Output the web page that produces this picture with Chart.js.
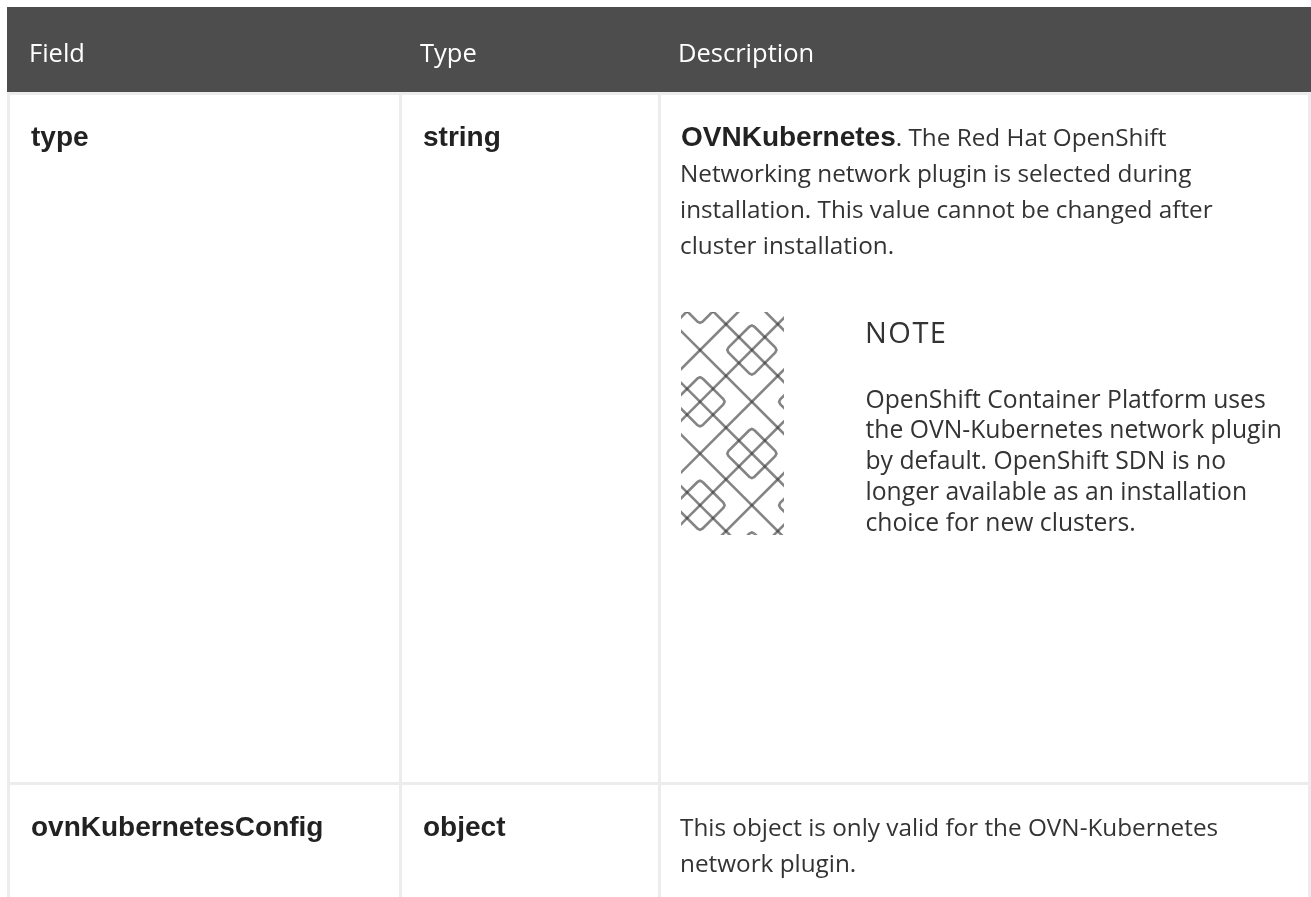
<!DOCTYPE html>
<html>
<head>
<meta charset="utf-8">
<title>Field table</title>
<script src="https://cdn.jsdelivr.net/npm/chart.js@4"></script>
<style>
  html, body { margin: 0; padding: 0; background: #fff; overflow: hidden; }
  #tableChart { position: absolute; left: 0; top: 0; }
  #noteChart { position: absolute; left: 681px; top: 312px; filter: blur(0.7px); }
</style>
</head>
<body>
<canvas id="tableChart" width="1311" height="897"></canvas>
<canvas id="noteChart" width="103" height="223"></canvas>
<script>
// table content
const columnHeaders = ['Field', 'Type', 'Description'];
const fieldNames = ['type', 'ovnKubernetesConfig'];
const fieldTypes = ['string', 'object'];
const typeLead = 'OVNKubernetes';
const typeLines = ['. The Red Hat OpenShift', 'Networking network plugin is selected during', 'installation. This value cannot be changed after', 'cluster installation.'];
const noteTitle = 'NOTE';
const noteLines = ['OpenShift Container Platform uses', 'the OVN-Kubernetes network plugin', 'by default. OpenShift SDN is no', 'longer available as an installation', 'choice for new clusters.'];
const configLines = ['This object is only valid for the OVN-Kubernetes', 'network plugin.'];

// table rules, in page pixels
const columnRules = [8.5, 400.5, 659.5, 1309.5];
const rowRules = [93.5, 783.5];

// note image: diagonal lattice lines and diamond centres
const slashLines = [-4, 0, 4, 8, 12, 16, 20];
const backslashLines = [-16, -12, -8, -4, 0, 4, 8];
const diamondCentres = [[0, -4], [8, -4], [4, 0], [0, 4], [8, 4], [4, 8], [0, 12], [8, 12], [4, 16]];

const bodyFont = '"Open Sans"';
const boldFont = '"Liberation Sans"';

const tableText = {
  id: 'tableText',
  beforeDatasetsDraw(chart) {
    const c = chart.ctx;
    const x = chart.scales.x;
    const put = (s, px, py, font, color, spacing) => {
      c.font = font;
      c.fillStyle = color;
      c.letterSpacing = spacing || '0px';
      c.fillText(s, x.getPixelForValue(px), py);
      const w = c.measureText(s).width;
      c.letterSpacing = '0px';
      return w;
    };
    c.save();
    c.fillStyle = '#4d4d4d';
    c.fillRect(x.getPixelForValue(7), 7, x.getPixelForValue(1311) - x.getPixelForValue(7), 85);
    c.textBaseline = 'alphabetic';

    const heads = [29, 420, 678];
    columnHeaders.forEach((h, i) => put(h, heads[i], 62, '500 25.5px ' + bodyFont, '#ffffff'));

    const bold = 'bold 28px ' + boldFont;
    put(fieldNames[0], 31, 146, bold, '#222222');
    put(fieldTypes[0], 423, 146, bold, '#222222');
    put(fieldNames[1], 31, 836, bold, '#222222');
    put(fieldTypes[1], 423, 836, bold, '#222222');

    const body = '24.3px ' + bodyFont;
    const bw = put(typeLead, 681, 146, bold, '#222222');
    typeLines.forEach((s, i) => put(s, i === 0 ? 681 + bw : 680, 146 + i * 36, body, '#333333'));

    put(noteTitle, 865, 343, '500 29px ' + bodyFont, '#333333', '1.5px');
    noteLines.forEach((s, i) => put(s, 865.5, 407.5 + i * 30.8, '24.7px ' + bodyFont, '#333333'));

    configLines.forEach((s, i) => put(s, 680, 836 + i * 36, body, '#333333'));
    c.restore();
  }
};

new Chart(document.getElementById('tableChart'), {
  type: 'scatter',
  data: { datasets: [{ data: [], pointRadius: 0 }] },
  options: {
    responsive: false,
    animation: false,
    layout: { padding: { top: 92, left: 7 } },
    plugins: { legend: { display: false }, tooltip: { enabled: false } },
    scales: {
      x: {
        type: 'linear', min: 7, max: 1311,
        afterBuildTicks: s => { s.ticks = columnRules.map(v => ({ value: v })); },
        ticks: { display: false },
        border: { display: false },
        grid: { color: '#ececec', lineWidth: 3, drawTicks: false }
      },
      y: {
        type: 'linear', min: 92, max: 897, reverse: true,
        afterBuildTicks: s => { s.ticks = rowRules.map(v => ({ value: v })); },
        ticks: { display: false },
        border: { display: false },
        grid: { color: '#ececec', lineWidth: 3, drawTicks: false }
      }
    }
  },
  plugins: [tableText]
});

// each dataset of the note image is one stroke, so crossings come out darker
const strokeStyle = { showLine: true, pointRadius: 0, borderColor: 'rgba(50,50,50,0.6)', borderWidth: 2.6, borderJoinStyle: 'round' };
const noteSets = [];
slashLines.forEach(k => noteSets.push({ ...strokeStyle, data: [{ x: k + 4, y: -4 }, { x: k - 18, y: 18 }] }));
backslashLines.forEach(k => noteSets.push({ ...strokeStyle, data: [{ x: k - 4, y: -4 }, { x: k + 18, y: 18 }] }));
diamondCentres.forEach(([cx, cy]) => {
  noteSets.push({
    ...strokeStyle,
    data: [
      [0.2, -1.8], [1.8, -0.2], [1.9, 0], [1.8, 0.2], [0.2, 1.8], [0, 1.9], [-0.2, 1.8],
      [-1.8, 0.2], [-1.9, 0], [-1.8, -0.2], [-0.2, -1.8], [0, -1.9], [0.2, -1.8]
    ].map(p => ({ x: cx + p[0], y: cy + p[1] }))
  });
});

new Chart(document.getElementById('noteChart'), {
  type: 'scatter',
  data: { datasets: noteSets },
  options: {
    responsive: false,
    animation: false,
    plugins: { legend: { display: false }, tooltip: { enabled: false } },
    scales: {
      x: { type: 'linear', min: -1.47, max: 6.48, display: false },
      y: { type: 'linear', min: -2.94, max: 14.3, reverse: true, display: false }
    }
  }
});
</script>
</body>
</html>
